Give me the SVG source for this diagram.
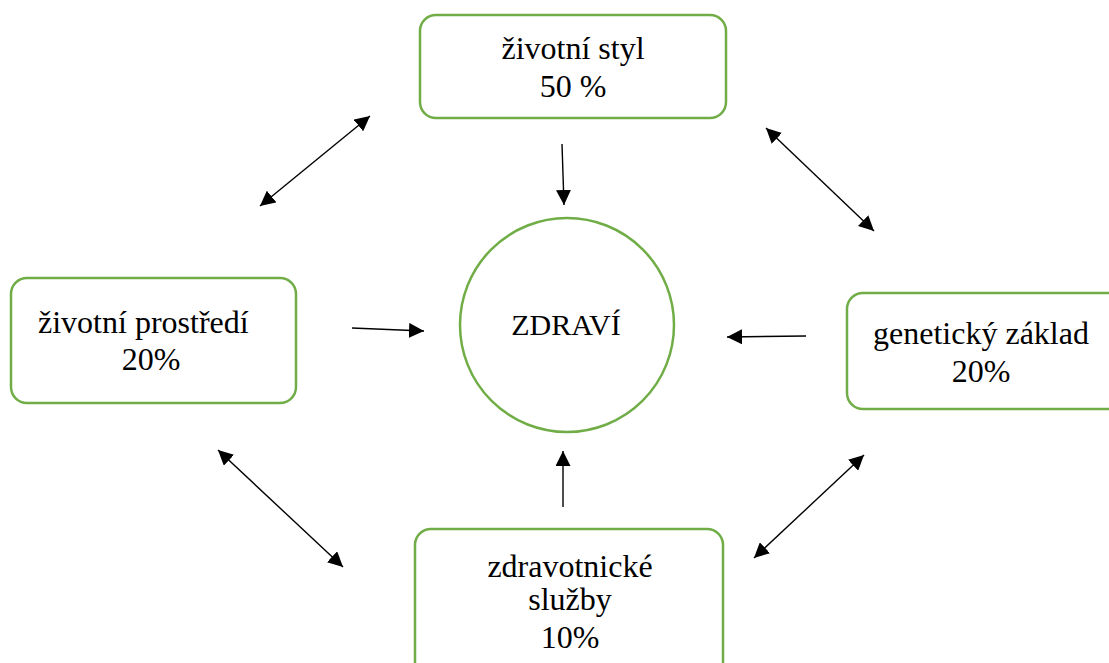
<svg xmlns="http://www.w3.org/2000/svg" width="1109" height="663" viewBox="0 0 1109 663">
<style>
.box{fill:#fff;stroke:#70AD47;stroke-width:2.5}
.t{font-family:'Liberation Serif','Times New Roman',Tinos,'DejaVu Serif',serif;font-size:32px;fill:#000}
.z{font-size:30px}
.c{text-anchor:middle}
.a{stroke:#000;stroke-width:1.4;fill:none}
</style>
<defs>
<marker id="ah" viewBox="0 0 10 10" refX="10" refY="5" markerWidth="15" markerHeight="15" markerUnits="userSpaceOnUse" orient="auto-start-reverse">
<path d="M0,0 L10,5 L0,10 z" fill="#000"/>
</marker>
</defs>
<rect width="1109" height="663" fill="#fff"/>
<g id="zivotni-styl">
<rect class="box" x="420" y="15" width="306" height="103" rx="16"/>
<text class="t c" x="573" y="59">životní styl</text>
<text class="t c" x="573" y="97">50 %</text>
</g>
<g id="zivotni-prostredi">
<rect class="box" x="11" y="278" width="285" height="125" rx="16"/>
<text class="t" x="38" y="333">životní prostředí</text>
<text class="t c" x="151" y="370">20%</text>
</g>
<g id="geneticky-zaklad">
<rect class="box" x="847" y="293" width="280" height="116" rx="16"/>
<text class="t c" x="981" y="344">genetický základ</text>
<text class="t c" x="981" y="382">20%</text>
</g>
<g id="zdravotnicke-sluzby">
<rect class="box" x="415" y="529" width="308" height="160" rx="16"/>
<text class="t c" x="570" y="577">zdravotnické</text>
<text class="t c" x="570" y="610">služby</text>
<text class="t c" x="570" y="648">10%</text>
</g>
<g id="zdravi">
<circle class="box" cx="567" cy="325" r="107"/>
<text class="t z c" x="566" y="335">ZDRAVÍ</text>
</g>
<g id="connectors">
<line class="a" x1="260" y1="206" x2="370" y2="116" marker-start="url(#ah)" marker-end="url(#ah)"/>
<line class="a" x1="766" y1="128" x2="874" y2="231" marker-start="url(#ah)" marker-end="url(#ah)"/>
<line class="a" x1="218" y1="450" x2="343" y2="567" marker-start="url(#ah)" marker-end="url(#ah)"/>
<line class="a" x1="864" y1="455" x2="754" y2="558" marker-start="url(#ah)" marker-end="url(#ah)"/>
<line class="a" x1="352" y1="328" x2="424" y2="331" marker-end="url(#ah)"/>
<line class="a" x1="806" y1="336" x2="727" y2="337" marker-end="url(#ah)"/>
<line class="a" x1="562" y1="144" x2="564" y2="205" marker-end="url(#ah)"/>
<line class="a" x1="563" y1="507" x2="563" y2="451" marker-end="url(#ah)"/>
</g>
</svg>
